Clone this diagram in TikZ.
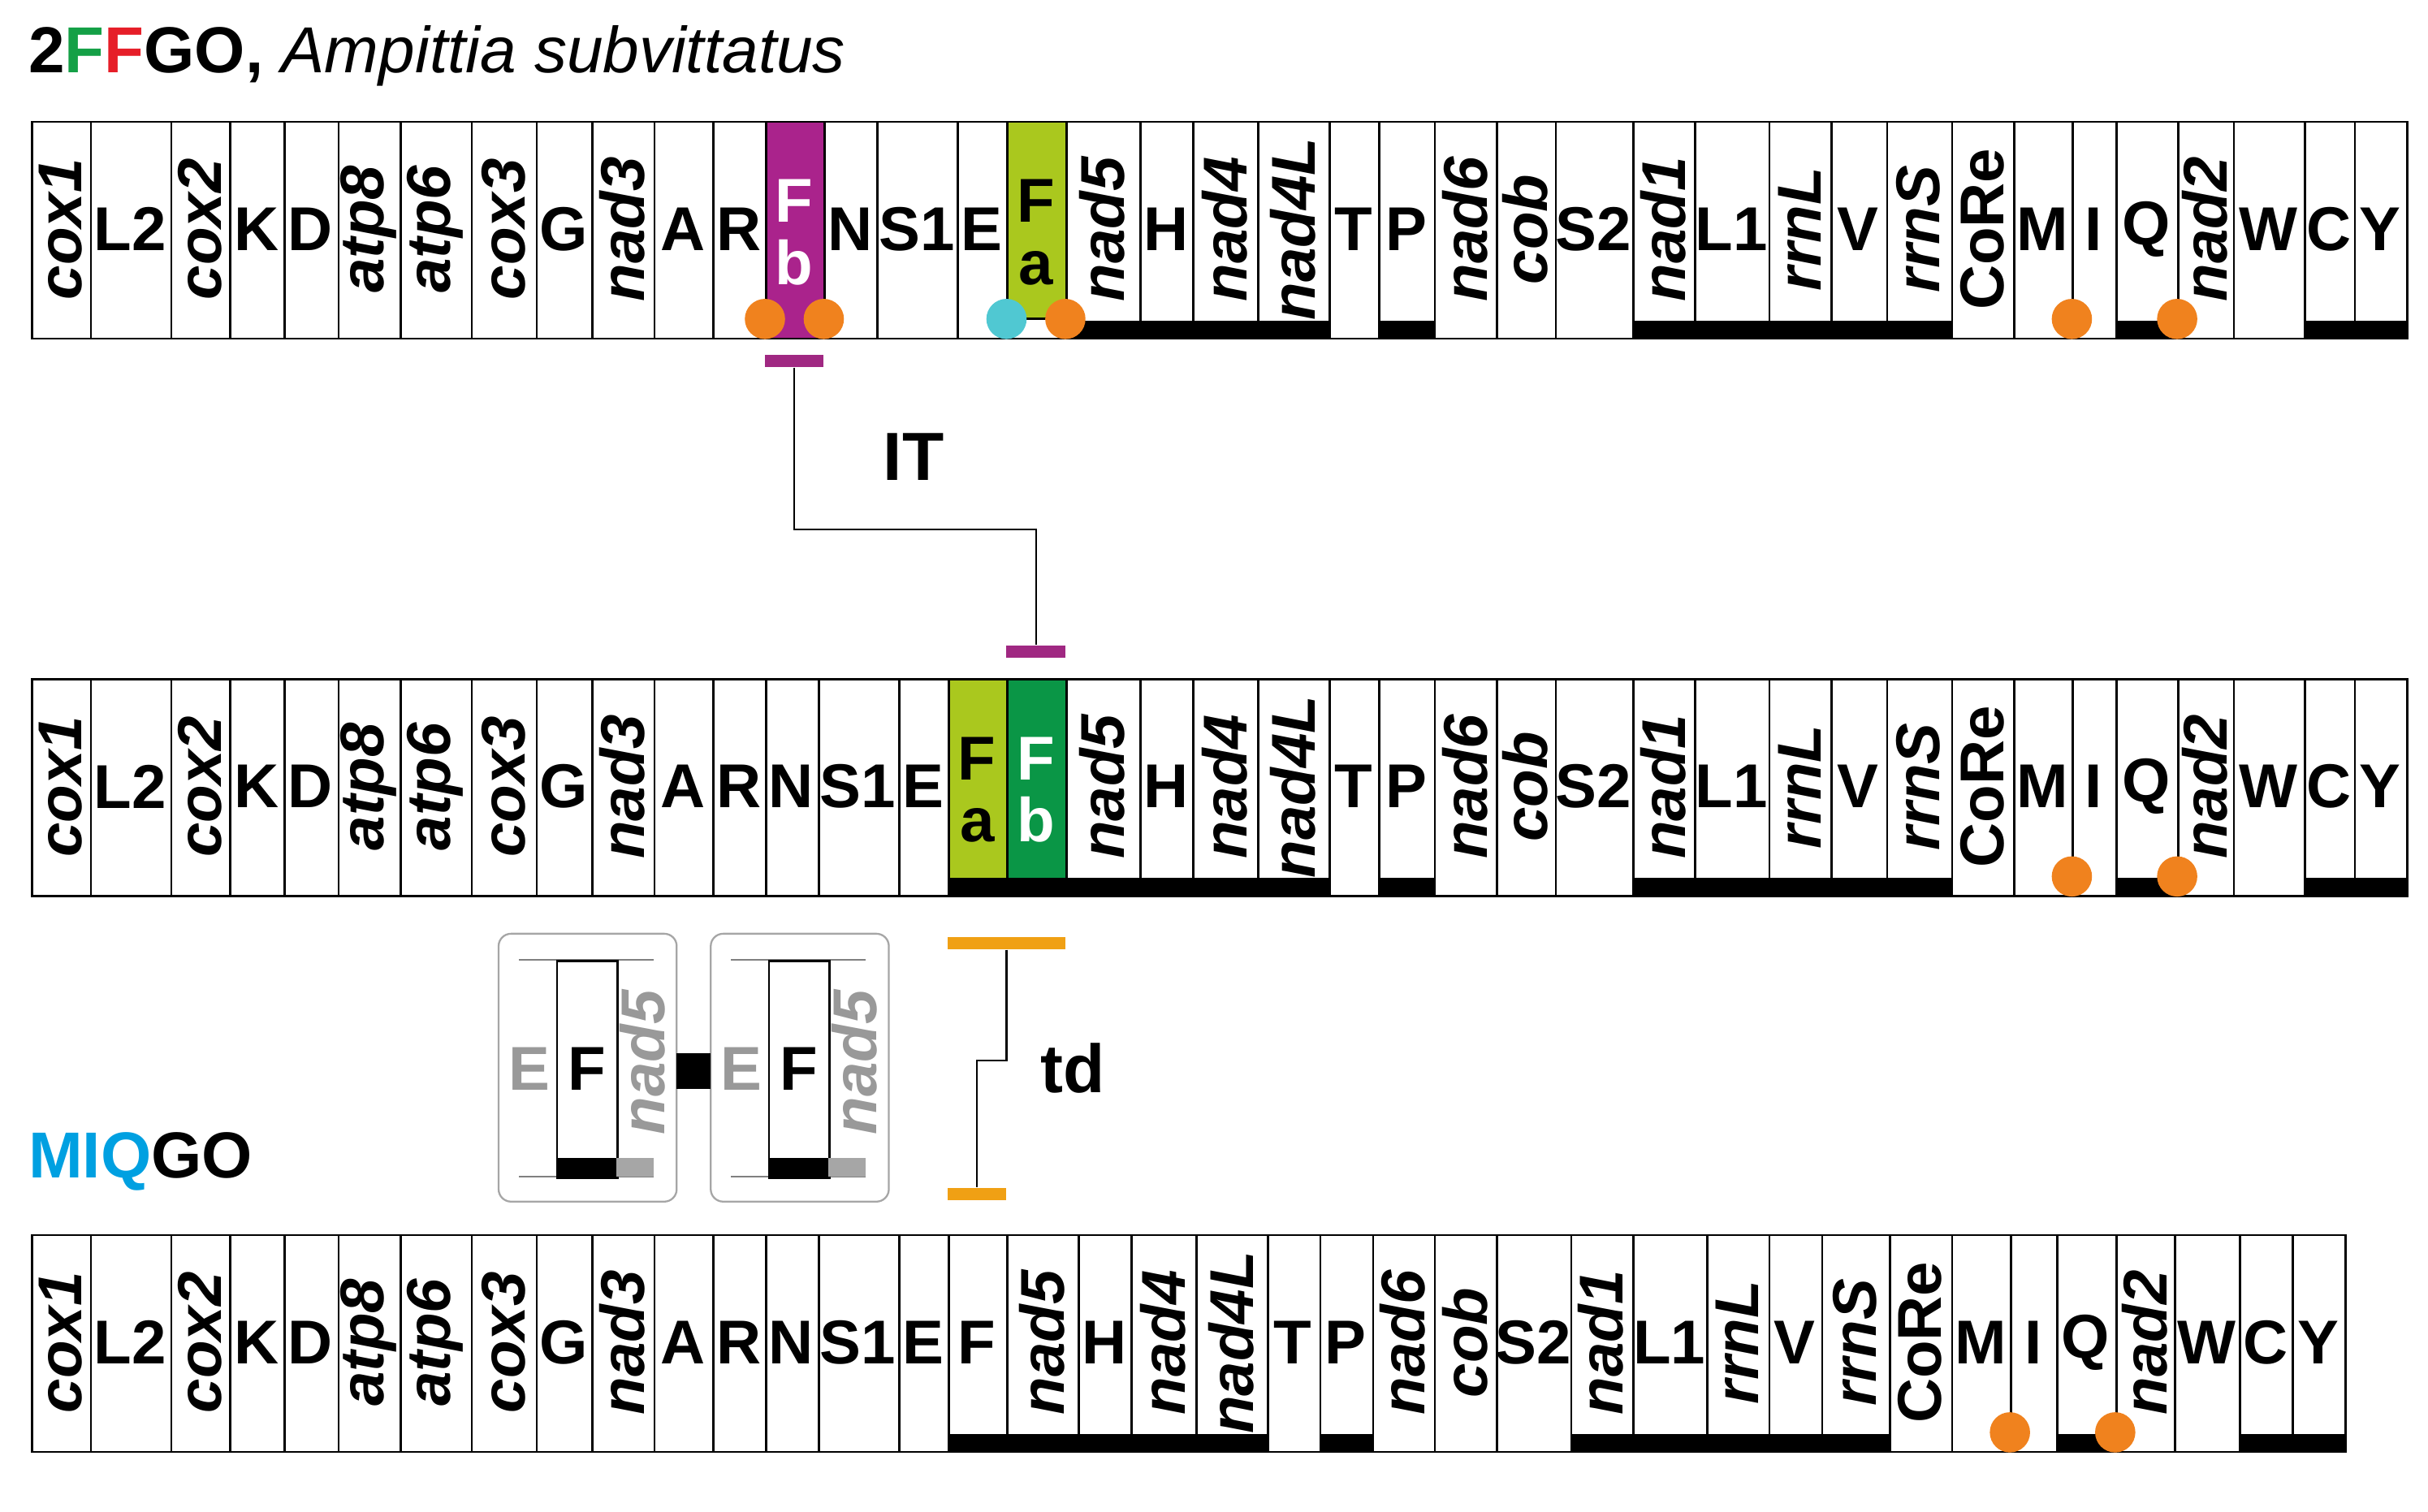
\documentclass[tikz,border=0pt]{standalone}
\usepackage{fontspec}
\setmainfont{Liberation Sans}
\definecolor{mag}{RGB}{170,35,140}
\definecolor{lime}{RGB}{170,200,30}
\definecolor{dgreen}{RGB}{10,150,70}
\definecolor{org}{RGB}{240,130,30}
\definecolor{cyn}{RGB}{80,200,210}
\definecolor{blu}{RGB}{0,160,225}
\definecolor{ttgreen}{RGB}{20,160,70}
\definecolor{ttred}{RGB}{230,30,40}
\definecolor{itbar}{RGB}{160,40,130}
\definecolor{tdbar}{RGB}{240,160,20}
\begin{document}
\begin{tikzpicture}[x=0.5pt,y=-0.5pt,
  lab/.style={font=\fontsize{20}{22}\selectfont\bfseries,inner sep=0},
  box/.style={draw,line width=0.7pt,fill=white},
  dot/.style={circle,fill=org,minimum size=13pt,inner sep=0},
]
\useasboundingbox (0,0) rectangle (1568,976);
% ---------- generic row macro via foreach ----------
\def\row#1#2#3{%
 \foreach \a/\b/\t/\k [count=\i] in {#3}{%
  \node[box,anchor=north west,minimum width={(\b-\a)*0.5pt},minimum height=70pt,inner sep=0] (#1b\i) at (\a,#2) {};
  \ifnum\k=0 \node[lab] (#1t\i) at ({(\a+\b)/2},#2+70) {\t};\fi
  \ifnum\k=1 \node[lab,rotate=90] (#1t\i) at ({(\a+\b)/2},#2+70) {\itshape\t};\fi
  \ifnum\k=2 \node[lab,rotate=90] (#1t\i) at ({(\a+\b)/2},#2+70) {\t};\fi
 }}
\row{a}{78}{20/58/cox1/1,58/110/L2/0,110/148/cox2/1,148/183/K/0,183/218/D/0,218/258/atp8/1,258/304/atp6/1,304/346/cox3/1,346/382/G/0,382/422/nad3/1,422/460/A/0,460/494/R/0,494/532/{}/0,532/566/N/0,566/618/S1/0,618/650/E/0,650/688/{}/0,688/736/nad5/1,736/770/H/0,770/812/nad4/1,812/858/nad4L/1,858/890/T/0,890/926/P/0,926/966/nad6/1,966/1004/cob/1,1004/1054/S2/0,1054/1094/nad1/1,1094/1142/L1/0,1142/1182/rrnL/1,1182/1218/V/0,1218/1260/rrnS/1,1260/1300/CoRe/2,1300/1338/M/0,1338/1366/I/0,1366/1406/Q/0,1406/1442/nad2/1,1442/1488/W/0,1488/1520/C/0,1520/1554/Y/0}
\row{b}{438}{20/58/cox1/1,58/110/L2/0,110/148/cox2/1,148/183/K/0,183/218/D/0,218/258/atp8/1,258/304/atp6/1,304/346/cox3/1,346/382/G/0,382/422/nad3/1,422/460/A/0,460/494/R/0,494/528/N/0,528/580/S1/0,580/612/E/0,612/650/{}/0,650/688/{}/0,688/736/nad5/1,736/770/H/0,770/812/nad4/1,812/858/nad4L/1,858/890/T/0,890/926/P/0,926/966/nad6/1,966/1004/cob/1,1004/1054/S2/0,1054/1094/nad1/1,1094/1142/L1/0,1142/1182/rrnL/1,1182/1218/V/0,1218/1260/rrnS/1,1260/1300/CoRe/2,1300/1338/M/0,1338/1366/I/0,1366/1406/Q/0,1406/1442/nad2/1,1442/1488/W/0,1488/1520/C/0,1520/1554/Y/0}
\row{c}{797}{20/58/cox1/1,58/110/L2/0,110/148/cox2/1,148/183/K/0,183/218/D/0,218/258/atp8/1,258/304/atp6/1,304/346/cox3/1,346/382/G/0,382/422/nad3/1,422/460/A/0,460/494/R/0,494/528/N/0,528/580/S1/0,580/612/E/0,612/650/F/0,650/696/nad5/1,696/730/H/0,730/772/nad4/1,772/818/nad4L/1,818/852/T/0,852/886/P/0,886/926/nad6/1,926/966/cob/1,966/1014/S2/0,1014/1054/nad1/1,1054/1102/L1/0,1102/1142/rrnL/1,1142/1176/V/0,1176/1220/rrnS/1,1220/1260/CoRe/2,1260/1298/M/0,1298/1328/I/0,1328/1366/Q/0,1366/1404/nad2/1,1404/1446/W/0,1446/1480/C/0,1480/1514/Y/0}
% strand bars
\foreach \a/\b in {688/858,890/926,1054/1260,1366/1406,1488/1554} \fill (\a,207) rectangle (\b,218);
\foreach \a/\b in {612/858,890/926,1054/1260,1366/1406,1488/1554} \fill (\a,567) rectangle (\b,578);
\foreach \a/\b in {612/818,852/886,1014/1220,1328/1366,1446/1514} \fill (\a,926) rectangle (\b,937);
% coloured F boxes
\node[box,fill=mag,anchor=north west,minimum width=19pt,minimum height=70pt,inner sep=0] (fb1) at (494,78) {};
\node[lab,text=white,align=center] at (513,150) {F\\[-2pt]b};
\node[box,fill=lime,anchor=north west,minimum width=19pt,minimum height=63.5pt,inner sep=0] (fa1) at (650,78) {};
\node[lab,align=center] at (669,150) {F\\[-2pt]a};
\node[box,fill=lime,anchor=north west,minimum width=19pt,minimum height=64.5pt,inner sep=0] (fa2) at (612,438) {};
\node[lab,align=center] at (631,510) {F\\[-2pt]a};
\node[box,fill=dgreen,anchor=north west,minimum width=19pt,minimum height=64.5pt,inner sep=0] (fb2) at (650,438) {};
\node[lab,text=white,align=center] at (669,510) {F\\[-2pt]b};
% dots
\foreach \x/\y [count=\i] in {494/206,532/206,688/206,1338/206,1406/206,1338/566,1406/566,1298/925,1366/925} \node[dot] (d\i) at (\x,\y) {};
\node[dot,fill=cyn] (dc) at (650,206) {};
% IT connector
\node[fill=itbar,minimum width=19pt,minimum height=4pt,inner sep=0] (it1) at (513,233) {};
\node[fill=itbar,minimum width=19pt,minimum height=4pt,inner sep=0] (it2) at (669,421) {};
\draw[line width=0.6pt] (it1.south) -- (513,342) -| (it2.north);
\node[lab,font=\fontsize{22}{24}\selectfont\bfseries] (IT) at (590,295) {IT};
% td connector
\node[fill=tdbar,minimum width=38pt,minimum height=4pt,inner sep=0] (td1) at (650,609) {};
\node[fill=tdbar,minimum width=19pt,minimum height=4pt,inner sep=0] (td2) at (631,771) {};
\draw[line width=0.6pt] (td1.south) -- (650,685) -- (631,685) -- (td2.north);
\node[lab,font=\fontsize{22}{24}\selectfont\bfseries] (td) at (693,690) {td};
% insets
\foreach \o [count=\j] in {0,137}{
 \draw[gray!70,rounded corners=4pt,line width=0.6pt] (322+\o,603) rectangle (437+\o,776);
 \draw[gray,line width=0.6pt] (335+\o,620) -- (422+\o,620) (335+\o,760) -- (422+\o,760);
 \node[box,anchor=north west,minimum width=19.5pt,minimum height=70pt,inner sep=0] (inF\j) at (359+\o,620) {};
 \fill (359+\o,748) rectangle (398+\o,760);
 \fill[gray!70] (398+\o,748) rectangle (422+\o,760);
 \node[lab] at (379+\o,690) {F};
 \node[lab,text=gray!80] at (342+\o,690) {E};
 \node[lab,text=gray!80,rotate=90] at (415+\o,686) {\itshape nad5};
}
\fill (437,680) rectangle (459,703);
% titles
\node[anchor=west,inner sep=0,font=\fontsize{21}{24}\selectfont] (title) at (18,36) {\bfseries 2\textcolor{ttgreen}{F}\textcolor{ttred}{F}GO, \mdseries\itshape Ampittia subvittatus};
\node[anchor=west,inner sep=0,font=\fontsize{21}{24}\selectfont\bfseries] (title2) at (18,750) {\textcolor{blu}{MIQ}GO};
\end{tikzpicture}
\end{document}
